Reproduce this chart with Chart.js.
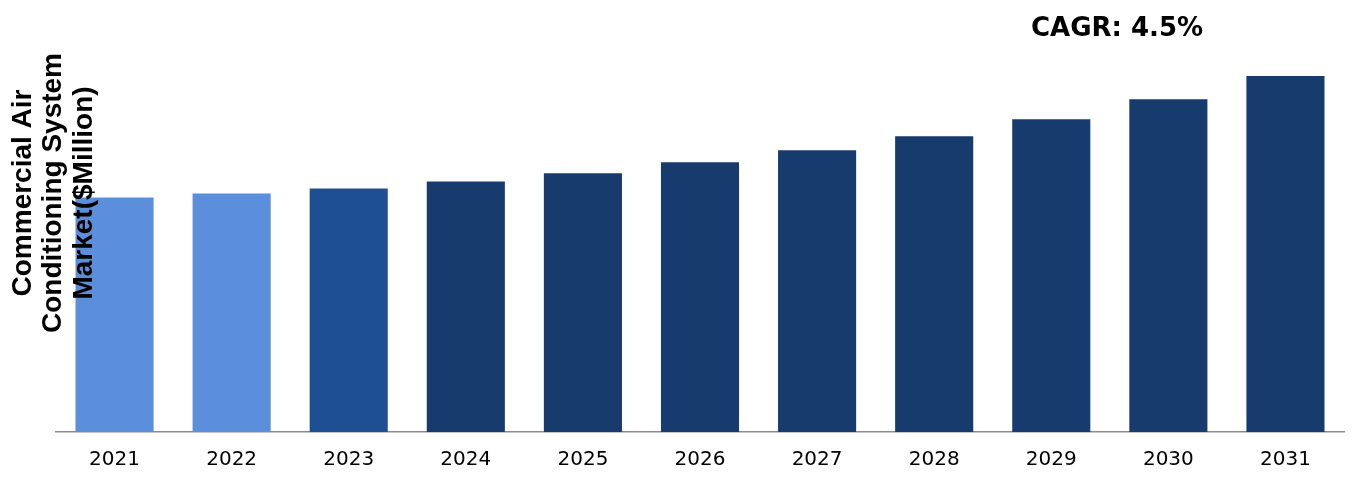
<!DOCTYPE html>
<html>
<head>
<meta charset="utf-8">
<script src="https://cdn.jsdelivr.net/npm/chart.js@4/dist/chart.umd.min.js"></script>
<style>
  html, body { margin: 0; padding: 0; background: #fff; }
  #wrap { width: 1366px; height: 479px; position: relative; }
</style>
</head>
<body>
<div id="wrap"><canvas id="marketChart"></canvas></div>
<script>
var years = ["2021", "2022", "2023", "2024", "2025", "2026", "2027", "2028", "2029", "2030", "2031"];
var marketValues = [234, 238, 243, 250, 258, 269, 281, 295, 312, 332, 355];
var barColors = ["#5b8fdb", "#5b8fdb", "#1f4f93", "#183b6e", "#183b6e", "#183b6e",
  "#183b6e", "#183b6e", "#183b6e", "#183b6e", "#183b6e"];
var yTitleLines = ["Commercial Air", "Conditioning System", "Market($Million)"];
var cagrText = "CAGR: 4.5%";

// draws the rotated y title and the CAGR note on top of the chart
var overlayText = {
  id: "overlayText",
  afterDraw: function (chart) {
    var c = chart.ctx;
    c.save();
    c.fillStyle = "#000";
    c.font = "bold 28px 'Liberation Sans', Arial, sans-serif";
    c.textAlign = "center";
    c.textBaseline = "alphabetic";
    var xs = [31, 61, 92];
    for (var i = 0; i < yTitleLines.length; i++) {
      c.save();
      c.translate(xs[i], 193);
      c.rotate(-Math.PI / 2);
      c.fillText(yTitleLines[i], 0, 0);
      c.restore();
    }
    c.font = "bold 26px 'DejaVu Sans', Verdana, sans-serif";
    c.fillText(cagrText, 1117, 36);
    c.restore();
  }
};

var ctx = document.getElementById("marketChart").getContext("2d");
var marketChart = new Chart(ctx, {
  type: "bar",
  data: {
    labels: years,
    datasets: [
      {
        data: marketValues,
        backgroundColor: barColors,
        categoryPercentage: 1,
        barPercentage: 0.667,
      },
    ],
  },
  options: {
    responsive: true,
    maintainAspectRatio: false,
    animation: false,
    layout: { padding: { left: 56, right: 22, top: 31, bottom: -1 } },
    plugins: {
      legend: { display: false },
      tooltip: { enabled: false },
    },
    scales: {
      x: {
        grid: { display: false },
        border: { color: "#8c8c8c", width: 1.5 },
        ticks: {
          color: "#000",
          padding: 8,
          maxRotation: 0,
          font: { family: "'DejaVu Sans', Verdana, sans-serif", size: 20 },
        },
      },
      y: {
        display: false,
        min: 0,
        max: 400,
      },
    },
  },
  plugins: [overlayText],
});
</script>
</body>
</html>
